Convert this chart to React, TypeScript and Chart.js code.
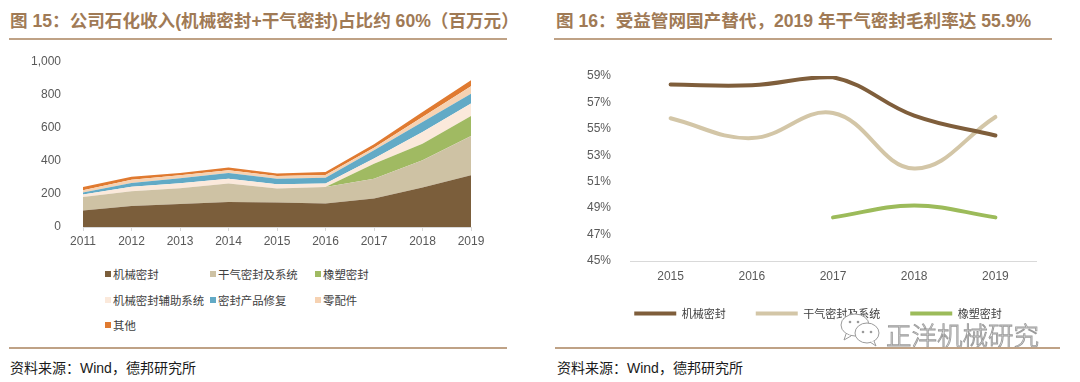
import React, { useEffect, useRef } from "react";
import { Chart, registerables } from "chart.js";

Chart.register(...registerables);

// ---------- Figure 15 data (百万元) ----------
const years = ["2011", "2012", "2013", "2014", "2015", "2016", "2017", "2018", "2019"];
const revenueNames = ["机械密封", "干气密封及系统", "橡塑密封", "机械密封辅助系统", "密封产品修复", "零配件", "其他"];
const mechSeal = [100, 128, 140, 152, 148, 142, 172, 239, 313];
const dryGasSeal = [82, 88, 95, 111, 85, 100, 121, 165, 239];
const rubberSeal = [0, 0, 0, 0, 0, 0, 91, 101, 121];
const auxSystem = [15, 28, 30, 30, 26, 21, 31, 71, 75];
const repair = [12, 22, 30, 34, 34, 36, 50, 60, 60];
const spareParts = [14, 20, 18, 17, 16, 16, 16, 31, 45];
const others = [20, 18, 14, 16, 15, 18, 20, 30, 36];
const revenueColors = ["#7B5E3B", "#CEC2A4", "#A0BA62", "#FBE9DB", "#62AAC6", "#F6D2B2", "#E07A30"];
const revenueTicks = [0, 200, 400, 600, 800, 1000];

// ---------- Figure 16 data (毛利率 %) ----------
const marginYears = ["2015", "2016", "2017", "2018", "2019"];
const marginNames = ["机械密封", "干气密封及系统", "橡塑密封"];
const mechMargin = [58.35, 58.3, 58.9, 56.0, 54.5];
const dryGasMargin = [55.8, 54.3, 56.2, 52.0, 55.9];
const rubberMargin = [null, null, 48.3, 49.2, 48.3];
const marginColors = ["#7F5E3B", "#D3C6A7", "#9CBB5A"];
const marginTicks = [45, 47, 49, 51, 53, 55, 57, 59];

const TITLE_COLOR = "#A07A55";
const RULE_COLOR = "#BFA286";
const TICK_COLOR = "#595959";
const CJK = "'Noto Sans CJK SC', 'Noto Sans', sans-serif";
const LATIN = "'Liberation Sans', Arial, sans-serif";

function RevenueChart() {
  const ref = useRef<HTMLCanvasElement>(null);
  useEffect(() => {
    const series = [mechSeal, dryGasSeal, rubberSeal, auxSystem, repair, spareParts, others];
    const chart = new Chart(ref.current!, {
      type: "line",
      data: {
        labels: years,
        datasets: series.map((d, i) => ({
          label: revenueNames[i],
          data: d,
          backgroundColor: revenueColors[i],
          borderColor: revenueColors[i],
          borderWidth: 0,
          pointRadius: 0,
          tension: 0,
          fill: i === 0 ? "origin" : "-1",
        })),
      },
      options: {
        animation: false,
        responsive: false,
        layout: { padding: { left: 0, right: 69, top: 12, bottom: 0 } },
        plugins: { legend: { display: false }, tooltip: { enabled: false } },
        scales: {
          x: {
            offset: false,
            grid: { drawOnChartArea: false, drawTicks: true, tickLength: 4, color: "#D9D9D9" },
            border: { color: "#D9D9D9" },
            ticks: { color: TICK_COLOR, font: { family: LATIN, size: 12 }, padding: 3, maxRotation: 0 },
            afterFit: (s: any) => { s.height = 28; },
          },
          y: {
            stacked: true,
            min: revenueTicks[0],
            max: revenueTicks[revenueTicks.length - 1],
            grid: { display: false },
            border: { display: false },
            afterBuildTicks: (s: any) => { s.ticks = revenueTicks.map((v) => ({ value: v })); },
            ticks: {
              color: TICK_COLOR,
              font: { family: LATIN, size: 12 },
              padding: 14,
              callback: (v: any) => Number(v).toLocaleString("en-US"),
            },
            afterFit: (s: any) => { s.width = 83; s.paddingTop = 7; s.paddingBottom = 7; },
          },
        },
      },
    });
    return () => chart.destroy();
  }, []);
  return (
    <canvas
      ref={ref}
      width={540}
      height={205}
      style={{ position: "absolute", left: 0, top: 50, width: 540, height: 205 }}
    />
  );
}

// nudges the legend box so its row sits where the original one does
const legendShift = {
  id: "legendShift",
  afterLayout(chart: any) {
    const lg = chart.legend;
    if (!lg) return;
    lg.left += 25;
    lg.right += 25;
    lg.top -= 6;
    lg.bottom -= 6;
  },
};

function MarginChart() {
  const ref = useRef<HTMLCanvasElement>(null);
  useEffect(() => {
    const series = [mechMargin, dryGasMargin, rubberMargin];
    const chart = new Chart(ref.current!, {
      type: "line",
      data: {
        labels: marginYears,
        datasets: series.map((d, i) => ({
          label: marginNames[i],
          data: d,
          borderColor: marginColors[i],
          backgroundColor: marginColors[i],
          borderWidth: 4,
          pointRadius: 0,
          tension: 0.4,
          borderCapStyle: "round" as const,
          fill: false,
        })),
      },
      plugins: [legendShift],
      options: {
        animation: false,
        responsive: false,
        layout: { padding: { left: 0, right: 44, top: 26, bottom: 0 } },
        plugins: {
          tooltip: { enabled: false },
          legend: {
            position: "bottom",
            labels: {
              usePointStyle: true,
              pointStyle: "line",
              pointStyleWidth: 42,
              boxHeight: 12,
              padding: 30,
              color: "#404040",
              font: { family: CJK, size: 11 },
            },
          },
        },
        scales: {
          x: {
            offset: true,
            grid: { drawOnChartArea: false, drawTicks: false, color: "#D9D9D9" },
            border: { color: "#D9D9D9" },
            ticks: { color: TICK_COLOR, font: { family: LATIN, size: 12 }, padding: 8, maxRotation: 0 },
            afterFit: (s: any) => { s.height = 23; },
          },
          y: {
            min: marginTicks[0],
            max: marginTicks[marginTicks.length - 1],
            grid: { display: false },
            border: { display: false },
            afterBuildTicks: (s: any) => { s.ticks = marginTicks.map((v) => ({ value: v })); },
            ticks: {
              color: TICK_COLOR,
              font: { family: LATIN, size: 12 },
              padding: 11,
              callback: (v: any) => `${v}%`,
            },
            afterFit: (s: any) => { s.width = 80; s.paddingTop = 7; s.paddingBottom = 7; },
          },
        },
      },
    });
    return () => chart.destroy();
  }, []);
  return (
    <canvas
      ref={ref}
      width={530}
      height={285}
      style={{ position: "absolute", left: 550, top: 50, width: 530, height: 285 }}
    />
  );
}

function Title({ x, text }: { x: number; text: string }) {
  return (
    <div
      style={{
        position: "absolute",
        left: x,
        top: 9,
        fontFamily: `${LATIN.split(",")[0]}, ${CJK}`,
        fontWeight: 700,
        fontSize: 17.6,
        lineHeight: "24px",
        color: TITLE_COLOR,
        whiteSpace: "nowrap",
      }}
    >
      {text}
    </div>
  );
}

function Rule({ x, y, w }: { x: number; y: number; w: number }) {
  return <div style={{ position: "absolute", left: x, top: y, width: w, height: 2, background: RULE_COLOR }} />;
}

function Source({ x }: { x: number }) {
  return (
    <div
      style={{
        position: "absolute",
        left: x,
        top: 358,
        fontFamily: `${LATIN.split(",")[0]}, ${CJK}`,
        fontSize: 14,
        lineHeight: "20px",
        color: "#1a1a1a",
        whiteSpace: "nowrap",
      }}
    >
      资料来源：Wind，德邦研究所
    </div>
  );
}

function RevenueLegend() {
  const cols = [105, 210, 315];
  const rows = [274, 300, 325];
  return (
    <>
      {revenueNames.map((name, i) => {
        const cx = cols[i % 3];
        const cy = rows[Math.floor(i / 3)];
        return (
          <div
            key={name}
            style={{
              position: "absolute",
              left: cx,
              top: cy - 9,
              height: 18,
              display: "flex",
              alignItems: "center",
              whiteSpace: "nowrap",
              fontFamily: CJK,
              fontSize: 11.4,
              color: "#404040",
            }}
          >
            <span style={{ display: "inline-block", width: 6, height: 6, background: revenueColors[i], marginRight: 2 }} />
            {name}
          </div>
        );
      })}
    </>
  );
}

function Watermark() {
  return (
    <>
      <svg
        width={46}
        height={36}
        style={{ position: "absolute", left: 838, top: 312 }}
        viewBox="0 0 46 36"
      >
        <ellipse cx={17} cy={13} rx={14} ry={11} fill="white" stroke="#9a9a9a" strokeWidth={1} />
        <path d="M8 22 L6 28 L13 24" fill="white" stroke="#9a9a9a" strokeWidth={1} />
        <ellipse cx={29} cy={21} rx={12} ry={10} fill="white" stroke="#9a9a9a" strokeWidth={1} />
        <path d="M36 29 L38 34 L32 30" fill="white" stroke="#9a9a9a" strokeWidth={1} />
        <circle cx={25} cy={20} r={1.3} fill="#9a9a9a" />
        <circle cx={33} cy={20} r={1.3} fill="#9a9a9a" />
        <circle cx={12} cy={10} r={1.3} fill="#9a9a9a" />
        <circle cx={20} cy={10} r={1.3} fill="#9a9a9a" />
      </svg>
      <div
        style={{
          position: "absolute",
          left: 886,
          top: 318,
          fontFamily: CJK,
          fontSize: 25.5,
          lineHeight: "32px",
          color: "white",
          WebkitTextStroke: "0.9px #9a9a9a",
          whiteSpace: "nowrap",
          fontWeight: 300,
        }}
      >
        正洋机械研究
      </div>
    </>
  );
}

export default function App() {
  return (
    <div
      style={{
        position: "fixed",
        left: 0,
        top: 0,
        width: 1080,
        height: 382,
        background: "white",
        overflow: "hidden",
      }}
    >
      <Title x={10} text="图 15：公司石化收入(机械密封+干气密封)占比约 60%（百万元）" />
      <Title x={556} text="图 16：受益管网国产替代，2019 年干气密封毛利率达 55.9%" />
      <Rule x={9} y={38} w={498} />
      <Rule x={554} y={38} w={498} />
      <RevenueChart />
      <RevenueLegend />
      <MarginChart />
      <Watermark />
      <Rule x={9} y={347} w={498} />
      <Rule x={555} y={347} w={505} />
      <Source x={10} />
      <Source x={557} />
    </div>
  );
}
